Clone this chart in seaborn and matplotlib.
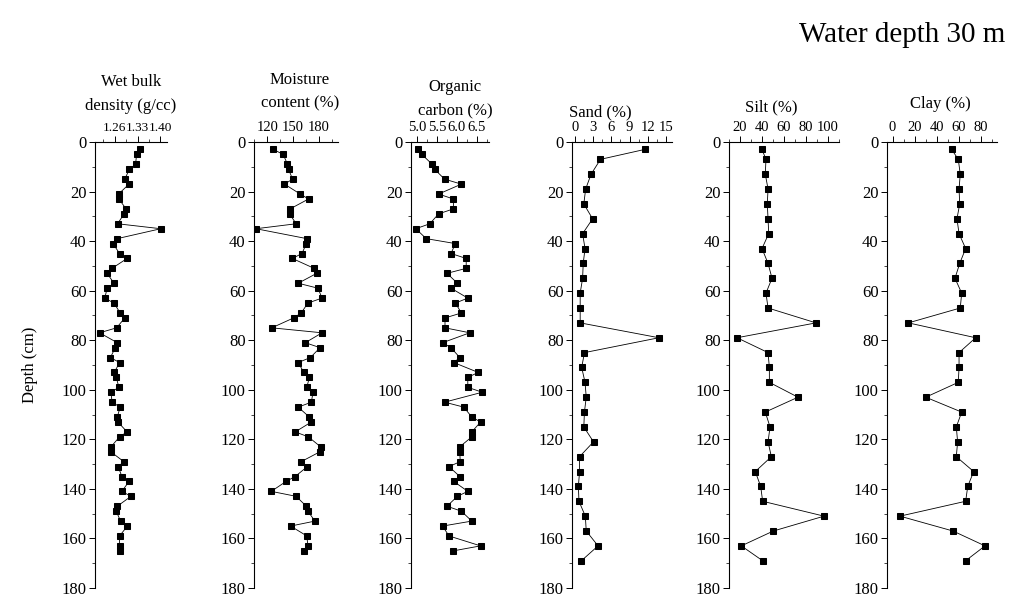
import matplotlib
matplotlib.use("Agg")
import matplotlib.pyplot as plt
import seaborn as sns
import numpy as np
from matplotlib.ticker import MultipleLocator

sns.set_theme(style="white")
plt.rcParams['font.family'] = ['Liberation Serif', 'DejaVu Serif']

# ---- data ----
depth_a = [3, 5, 9, 11, 15, 17, 21, 23, 27, 29, 33, 35, 39, 41, 45, 47, 51, 53, 57, 59,
           63, 65, 69, 71, 75, 77, 81, 83, 87, 89, 93, 95, 99, 101, 105, 107, 111, 113,
           117, 119, 123, 125, 129, 131, 135, 137, 141, 143, 147, 149, 153, 155, 159, 163, 165]
bulk_density = [1.336, 1.327, 1.324, 1.305, 1.291, 1.304, 1.272, 1.273, 1.295, 1.289,
                1.269, 1.401, 1.268, 1.255, 1.275, 1.298, 1.252, 1.237, 1.258, 1.237,
                1.230, 1.258, 1.277, 1.291, 1.266, 1.214, 1.268, 1.262, 1.247, 1.275,
                1.259, 1.265, 1.273, 1.249, 1.252, 1.277, 1.268, 1.270, 1.298, 1.275,
                1.249, 1.248, 1.288, 1.271, 1.282, 1.304, 1.282, 1.310, 1.268, 1.265,
                1.278, 1.299, 1.275, 1.275, 1.277]
moisture = [127.1, 138.5, 143.5, 144.7, 149.4, 140.0, 158.2, 167.9, 146.5, 145.9,
            153.5, 107.0, 165.9, 165.3, 160.3, 149.1, 174.4, 177.4, 155.9, 178.8,
            183.5, 167.1, 159.4, 150.6, 125.3, 183.5, 164.1, 181.2, 170.0, 155.9,
            162.4, 168.8, 165.9, 173.0, 171.2, 155.9, 168.8, 171.2, 152.4, 167.7,
            181.8, 181.2, 159.4, 166.5, 152.4, 141.8, 124.7, 153.5, 165.3, 167.1,
            175.3, 147.1, 165.9, 167.1, 162.1]
organic_carbon = [5.03, 5.12, 5.38, 5.44, 5.69, 6.11, 5.54, 5.91, 5.91, 5.54,
                  5.32, 4.97, 5.23, 5.96, 5.85, 6.23, 6.23, 5.75, 6.01, 5.85,
                  6.27, 5.96, 6.11, 5.70, 5.70, 6.32, 5.64, 5.85, 6.07, 5.92,
                  6.53, 6.27, 6.27, 6.63, 5.69, 6.17, 6.37, 6.59, 6.37, 6.37,
                  6.07, 6.07, 6.08, 5.80, 6.07, 5.92, 6.27, 6.01, 5.75, 6.11,
                  6.37, 5.64, 5.80, 6.59, 5.91]

depth_b = [3, 7, 13, 19, 25, 31, 37, 43, 49, 55, 61, 67, 73, 79, 85, 91, 97, 103,
           109, 115, 121, 127, 133, 139, 145, 151, 157, 163, 169]
sand = [11.5, 4.2, 2.65, 1.75, 1.45, 2.9, 1.25, 1.65, 1.35, 1.25, 0.85, 0.85, 0.85,
        13.85, 1.55, 1.1, 1.65, 1.85, 1.55, 1.45, 3.05, 0.75, 0.75, 0.55, 0.65,
        1.7, 1.85, 3.8, 1.05]
silt = [40.0, 43.6, 43.0, 45.5, 44.8, 45.5, 46.1, 40.0, 45.5, 49.1, 43.6, 45.5, 89.1,
        17.3, 45.5, 46.7, 46.7, 72.7, 43.0, 47.3, 45.5, 48.5, 33.9, 38.8, 40.6, 96.4,
        50.3, 21.2, 40.6]
clay = [53.8, 59.8, 61.6, 60.5, 61.1, 58.6, 60.5, 66.5, 61.1, 56.8, 62.9, 61.6, 14.4,
        75.6, 60.5, 60.5, 59.8, 30.2, 62.9, 58.0, 59.2, 58.0, 73.8, 68.4, 66.5, 6.8,
        55.0, 84.1, 66.5]

titles = ["Wet bulk\ndensity (g/cc)", "Moisture\ncontent (%)", "Organic\ncarbon (%)",
          "Sand (%)", "Silt (%)", "Clay (%)"]
title_x = [131, 300, 455, 600, 771, 940]
title_y = [94, 92, 99, 112, 107, 104]
xlims = [(1.20, 1.42), (104.7, 202), (4.85, 6.8), (-0.5, 16), (10, 110), (-5, 95)]
xticks = [[1.26, 1.33, 1.40], [120, 150, 180], [5.0, 5.5, 6.0, 6.5],
          [0, 3, 6, 9, 12, 15], [20, 40, 60, 80, 100], [0, 20, 40, 60, 80]]
xticklabels = [["1.26", "1.33", "1.40"], ["120", "150", "180"],
               ["5.0", "5.5", "6.0", "6.5"], ["0", "3", "6", "9", "12", "15"],
               ["20", "40", "60", "80", "100"], ["0", "20", "40", "60", "80"]]
xminor = [0.035, 15, 0.25, 1.5, 10, 10]
xlabel_size = [9.5, 10.5, 10.5, 10.5, 10.5, 10.5]
series = [(bulk_density, depth_a), (moisture, depth_a), (organic_carbon, depth_a),
          (sand, depth_b), (silt, depth_b), (clay, depth_b)]

W, H = 1024, 600
fig = plt.figure(figsize=(W / 100, H / 100), dpi=100)
lefts = [95, 254, 411, 572, 729, 887]
widths = [72, 84, 78, 100, 110, 110]
top_px, bot_px = 142, 588

for i, (vals, dep) in enumerate(series):
    ax = fig.add_axes([lefts[i] / W, 1 - bot_px / H, widths[i] / W, (bot_px - top_px) / H])
    sns.lineplot(x=vals, y=dep, sort=False, orient="y", estimator=None, ax=ax,
                 color="black", linewidth=0.6, marker="s", markersize=4.3,
                 markeredgecolor="black", markerfacecolor="black")
    ax.set_xlim(*xlims[i])
    ax.set_ylim(180, 0)
    ax.set_facecolor("white")
    for s in ["right", "bottom"]:
        ax.spines[s].set_visible(False)
    for s in ["left", "top"]:
        ax.spines[s].set_visible(True)
        ax.spines[s].set_color("black")
        ax.spines[s].set_linewidth(0.8)
    ax.xaxis.set_ticks_position("top")
    ax.xaxis.set_label_position("top")
    ax.set_xticks(xticks[i])
    ax.set_xticklabels(xticklabels[i])
    ax.xaxis.set_minor_locator(MultipleLocator(xminor[i]))
    ax.set_yticks(np.arange(0, 181, 20))
    ax.yaxis.set_minor_locator(MultipleLocator(10))
    ax.tick_params(axis="both", which="major", direction="out", length=4, width=0.7,
                   pad=1.5, colors="black")
    ax.tick_params(axis="x", which="major", labelsize=xlabel_size[i])
    ax.tick_params(axis="y", which="major", labelsize=12, pad=2)
    ax.tick_params(axis="both", which="minor", direction="out", length=2.5, width=0.6)
    ax.tick_params(axis="x", which="both", top=True, bottom=False, labeltop=True,
                   labelbottom=False)
    ax.tick_params(axis="y", which="both", left=True, right=False)
    ax.set_xlabel("")
    ax.set_ylabel("")
    ax.grid(False)
    fig.text(title_x[i] / W, 1 - title_y[i] / H, titles[i], ha="center", va="center",
             fontsize=12, linespacing=1.6, color="black")

fig.text(30 / W, 1 - 365 / H, "Depth (cm)", rotation=90, ha="center", va="center",
         fontsize=12, color="black")
fig.text(1005 / W, 1 - 35 / H, "Water depth 30 m", ha="right", va="center",
         fontsize=21, color="black")

fig.savefig("out.png", dpi=100, facecolor="white")
